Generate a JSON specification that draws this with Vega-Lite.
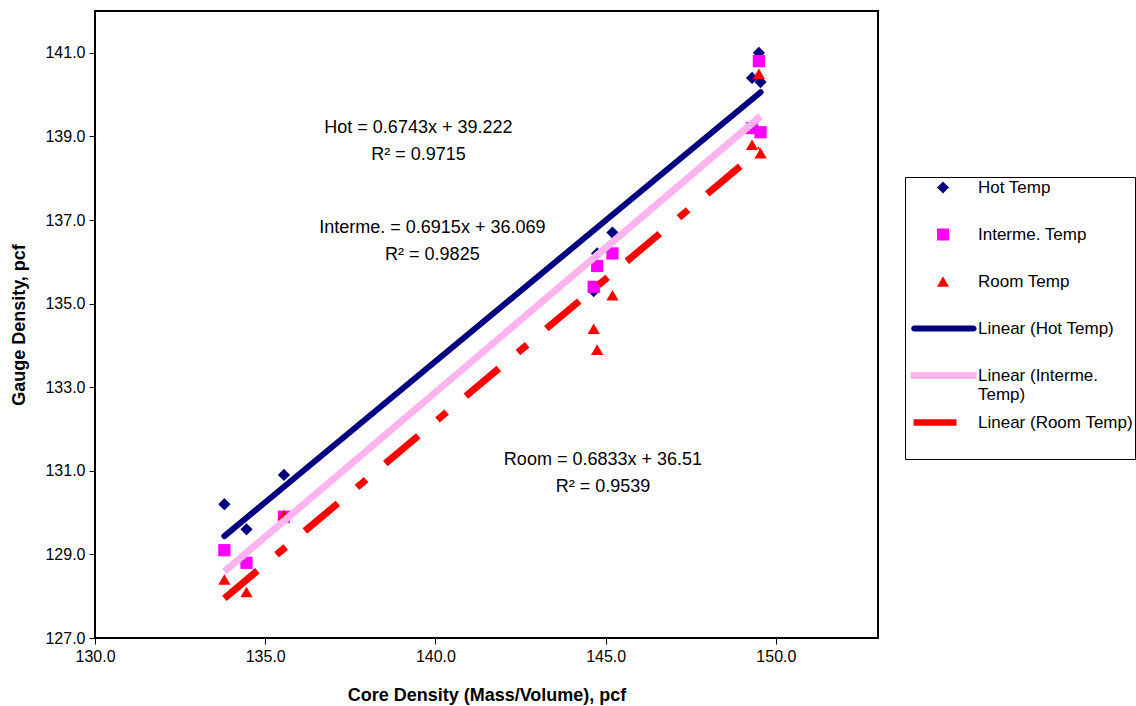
{
  "$schema": "https://vega.github.io/schema/vega-lite/v6.json",
  "width": 783,
  "height": 627,
  "autosize": "none",
  "padding": {"left": 95, "top": 11, "right": 258, "bottom": 68},
  "background": "white",
  "config": {
    "font": "Liberation Sans",
    "view": {"stroke": "#000000", "strokeWidth": 2},
    "axis": {
      "grid": false,
      "domain": false,
      "labelFont": "Liberation Sans",
      "labelFontSize": 16,
      "labelColor": "#000000",
      "labelFlush": false,
      "tickColor": "#000000",
      "tickSize": 6,
      "tickWidth": 1,
      "titleFont": "Liberation Sans",
      "titleFontSize": 18,
      "titleFontWeight": "bold",
      "titleColor": "#000000"
    }
  },
  "data": {
    "values": [
      {"x": 133.8, "y": 130.2, "series": "Hot Temp"},
      {"x": 134.45, "y": 129.6, "series": "Hot Temp"},
      {"x": 135.55, "y": 130.9, "series": "Hot Temp"},
      {"x": 144.65, "y": 135.3, "series": "Hot Temp"},
      {"x": 144.75, "y": 136.2, "series": "Hot Temp"},
      {"x": 145.2, "y": 136.7, "series": "Hot Temp"},
      {"x": 149.3, "y": 140.4, "series": "Hot Temp"},
      {"x": 149.5, "y": 141.0, "series": "Hot Temp"},
      {"x": 149.55, "y": 140.3, "series": "Hot Temp"},
      {"x": 133.8, "y": 129.1, "series": "Interme. Temp"},
      {"x": 134.45, "y": 128.8, "series": "Interme. Temp"},
      {"x": 135.55, "y": 129.9, "series": "Interme. Temp"},
      {"x": 144.65, "y": 135.4, "series": "Interme. Temp"},
      {"x": 144.75, "y": 135.9, "series": "Interme. Temp"},
      {"x": 145.2, "y": 136.2, "series": "Interme. Temp"},
      {"x": 149.3, "y": 139.2, "series": "Interme. Temp"},
      {"x": 149.5, "y": 140.8, "series": "Interme. Temp"},
      {"x": 149.55, "y": 139.1, "series": "Interme. Temp"},
      {"x": 133.8, "y": 128.4, "series": "Room Temp"},
      {"x": 134.45, "y": 128.1, "series": "Room Temp"},
      {"x": 135.55, "y": 129.95, "series": "Room Temp"},
      {"x": 144.65, "y": 134.4, "series": "Room Temp"},
      {"x": 144.75, "y": 133.9, "series": "Room Temp"},
      {"x": 145.2, "y": 135.2, "series": "Room Temp"},
      {"x": 149.3, "y": 138.8, "series": "Room Temp"},
      {"x": 149.5, "y": 140.5, "series": "Room Temp"},
      {"x": 149.55, "y": 138.6, "series": "Room Temp"}
    ]
  },
  "layer": [
    {
      "mark": {"type": "point", "filled": true, "opacity": 1, "size": 150, "strokeWidth": 0},
      "encoding": {
        "x": {
          "field": "x", "type": "quantitative",
          "scale": {"domain": [130, 153], "nice": false, "zero": false},
          "axis": {"values": [130, 135, 140, 145, 150], "format": ".1f", "title": "Core Density (Mass/Volume), pcf", "labelPadding": 4, "titlePadding": 22}
        },
        "y": {
          "field": "y", "type": "quantitative",
          "scale": {"domain": [127, 142], "nice": false, "zero": false},
          "axis": {"values": [127, 129, 131, 133, 135, 137, 139, 141], "format": ".1f", "title": "Gauge Density, pcf", "labelPadding": 4, "titlePadding": 16}
        },
        "color": {
          "field": "series", "type": "nominal",
          "scale": {
            "domain": ["Hot Temp", "Interme. Temp", "Room Temp", "Linear (Hot Temp)", "Linear (Interme. Temp)", "Linear (Room Temp)"],
            "range": ["#000080", "#ff00ff", "#ff0000", "#000080", "#ffb3ef", "#ff0000"]
          },
          "legend": {
            "title": " ",
            "titleOrient": "bottom",
            "titleFontSize": 12,
            "titlePadding": 15,
            "orient": "none",
            "legendX": 810,
            "legendY": 166,
            "padding": 2,
            "strokeColor": "#000000",
            "fillColor": "#ffffff",
            "gridAlign": "all",
            "labelFont": "Liberation Sans",
            "labelFontSize": 17,
            "labelColor": "#000000",
            "labelLimit": 300,
            "symbolSize": 144,
            "symbolStrokeWidth": 0,
            "symbolOffset": 27.5,
            "labelOffset": 26.5,
            "rowPadding": 10,
            "labelExpr": "datum.label == 'Linear (Interme. Temp)' ? ['Linear (Interme.', 'Temp)'] : datum.label",
            "encode": {"labels": {"update": {"lineHeight": {"value": 21}}}}
          }
        },
        "shape": {
          "field": "series", "type": "nominal",
          "scale": {
            "domain": ["Hot Temp", "Interme. Temp", "Room Temp", "Linear (Hot Temp)", "Linear (Interme. Temp)", "Linear (Room Temp)"],
            "range": ["diamond", "square", "triangle-up",
              "M-4.8,-0.5H5.1A0.5,0.5 0 0 1 5.1,0.5H-4.8A0.5,0.5 0 0 1 -4.8,-0.5Z",
              "M-5.4,-0.6H5.6V0.6H-5.4Z",
              "M-4.9,-0.55H2.25V0.55H-4.9Z"]
          },
          "legend": {
            "title": " ",
            "titleOrient": "bottom",
            "titleFontSize": 12,
            "titlePadding": 15,
            "orient": "none",
            "legendX": 810,
            "legendY": 166,
            "padding": 2,
            "strokeColor": "#000000",
            "fillColor": "#ffffff",
            "gridAlign": "all",
            "labelFont": "Liberation Sans",
            "labelFontSize": 17,
            "labelColor": "#000000",
            "labelLimit": 300,
            "symbolSize": 144,
            "symbolStrokeWidth": 0,
            "symbolOffset": 27.5,
            "labelOffset": 26.5,
            "rowPadding": 10,
            "labelExpr": "datum.label == 'Linear (Interme. Temp)' ? ['Linear (Interme.', 'Temp)'] : datum.label",
            "encode": {"labels": {"update": {"lineHeight": {"value": 21}}}}
          }
        }
      }
    },
    {
      "transform": [
        {"filter": "datum.series == 'Hot Temp'"},
        {"regression": "y", "on": "x"}
      ],
      "mark": {"type": "line", "color": "#000080", "strokeWidth": 6, "strokeCap": "round"},
      "encoding": {
        "x": {"field": "x", "type": "quantitative"},
        "y": {"field": "y", "type": "quantitative"}
      }
    },
    {
      "transform": [
        {"filter": "datum.series == 'Interme. Temp'"},
        {"regression": "y", "on": "x"}
      ],
      "mark": {"type": "line", "color": "#ffb3ef", "strokeWidth": 7, "strokeCap": "butt"},
      "encoding": {
        "x": {"field": "x", "type": "quantitative"},
        "y": {"field": "y", "type": "quantitative"}
      }
    },
    {
      "transform": [
        {"filter": "datum.series == 'Room Temp'"},
        {"regression": "y", "on": "x"}
      ],
      "mark": {"type": "line", "color": "#ff0000", "strokeWidth": 7, "strokeCap": "butt", "strokeDash": [43, 25, 12, 25]},
      "encoding": {
        "x": {"field": "x", "type": "quantitative"},
        "y": {"field": "y", "type": "quantitative"}
      }
    },
    {
      "data": {
        "values": [
          {"x": 139.5, "y": 139.2, "label": "Hot = 0.6743x + 39.222\nR² = 0.9715"},
          {"x": 139.91, "y": 136.81, "label": "Interme. = 0.6915x + 36.069\nR² = 0.9825"},
          {"x": 144.92, "y": 131.26, "label": "Room = 0.6833x + 36.51\nR² = 0.9539"}
        ]
      },
      "mark": {"type": "text", "font": "Liberation Sans", "fontSize": 18, "lineHeight": 27, "lineBreak": "\n", "align": "center", "baseline": "middle", "color": "#000000"},
      "encoding": {
        "x": {"field": "x", "type": "quantitative"},
        "y": {"field": "y", "type": "quantitative"},
        "text": {"field": "label"}
      }
    }
  ]
}
